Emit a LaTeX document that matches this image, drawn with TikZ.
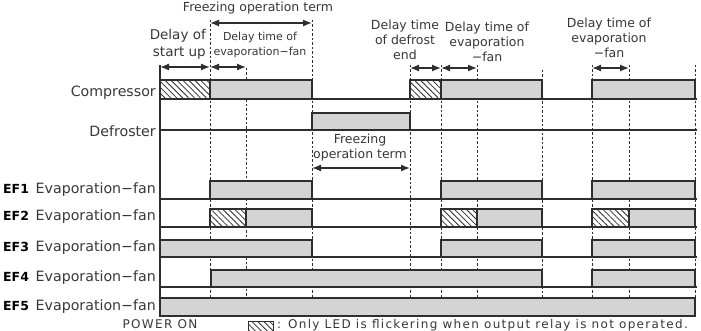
\documentclass[tikz,border=0pt]{standalone}
\usepackage{fontspec}
\setmainfont{DejaVu Sans}
\usetikzlibrary{arrows.meta, patterns.meta}
\definecolor{linegray}{HTML}{2E2E2E}
\definecolor{boxgray}{HTML}{D4D4D4}
\definecolor{textgray}{HTML}{383838}

\begin{document}
\begin{tikzpicture}[x=1pt, y=-1pt,
    on/.style = {fill=boxgray, draw=linegray, line width=1.4pt},
    hatch/.style = {draw=linegray, line width=1.4pt, pattern color=linegray,
      pattern={Lines[angle=-45, distance=4.2pt, line width=0.8pt]}},
    base/.style = {draw=linegray, line width=1.3pt},
    guide/.style = {draw=linegray, line width=0.8pt, dash pattern=on 2.5pt off 2pt},
    span/.style = {{Latex[length=9pt, width=7pt]}-{Latex[length=9pt, width=7pt]}, draw=linegray, line width=1.3pt},
    rowlabel/.style = {anchor=base east, text=textgray, inner sep=0pt, font=\fontsize{14.2}{16}\selectfont},
    eflabel/.style = {anchor=base west, inner sep=0pt, font=\fontsize{12.5}{16}\selectfont\bfseries},
    note/.style = {text=textgray, inner sep=0pt, align=center, font=\fontsize{12.5}{15}\selectfont},
    legend/.style = {text=textgray, inner sep=0pt, font=\fontsize{12}{14}\selectfont\addfontfeatures{LetterSpace=11}}]
    \useasboundingbox[fill=white] (0,0) rectangle (701,331);
    % guide lines
    \foreach \x/\y in {210/20, 246/68, 312/20, 410/65, 441/65, 477/65, 542/70, 592/65, 629/65, 695/65}
        \draw[guide] (\x,\y) -- (\x,298);
    % texts on top
    \node[note] (frz) at (258,8) {Freezing operation term};
    \node[note, anchor=east, align=right, font=\fontsize{13.5}{17}\selectfont] (dstart) at (206,44) {Delay of\\start up};
    \node[note, font=\fontsize{11}{15}\selectfont] (dfan1) at (260,45) {Delay time of\\evaporation−fan};
    \node[note] (ddef) at (405,40) {Delay time\\of defrost\\end};
    \node[note] (dfan2) at (487,41.5) {Delay time of\\evaporation\\−fan};
    \node[note] (dfan3) at (609,38) {Delay time of\\evaporation\\−fan};
    \node[note] (frz2) at (360,148) {Freezing\\operation term};
    % spans
    \draw[span] (210,23) -- (312,23);
    \draw[span] (160,67) -- (210,67);
    \draw[span] (210,67) -- (246,67);
    \draw[span] (410,68) -- (441,68);
    \draw[span] (441,68) -- (477,68);
    \draw[span] (592,68) -- (629,68);
    \draw[span] (312,168) -- (410,168);
    % Compressor
    \draw[hatch] (160,80) rectangle (210,99);
    \draw[on] (210,80) rectangle (312,99);
    \draw[hatch] (410,80) rectangle (441,99);
    \draw[on] (441,80) rectangle (542,99);
    \draw[on] (592,80) rectangle (695,99);
    \draw[base] (160,99) -- (697,99);
    % Defroster
    \draw[on] (312,113) rectangle (410,130);
    \draw[base] (160,130) -- (697,130);
    % EF1
    \draw[on] (210,181) rectangle (312,199);
    \draw[on] (441,181) rectangle (542,199);
    \draw[on] (592,181) rectangle (695,199);
    \draw[base] (160,199) -- (697,199);
    % EF2
    \draw[hatch] (210,209) rectangle (246,227);
    \draw[on] (246,209) rectangle (312,227);
    \draw[hatch] (441,209) rectangle (477,227);
    \draw[on] (477,209) rectangle (542,227);
    \draw[hatch] (592,209) rectangle (629,227);
    \draw[on] (629,209) rectangle (695,227);
    \draw[base] (160,227) -- (697,227);
    % EF3
    \draw[on] (160,240) rectangle (312,257);
    \draw[on] (441,240) rectangle (542,257);
    \draw[on] (592,240) rectangle (695,257);
    \draw[base] (160,257) -- (697,257);
    % EF4
    \draw[on] (211,270) rectangle (542,287);
    \draw[on] (592,270) rectangle (695,287);
    \draw[base] (160,287) -- (697,287);
    % EF5
    \draw[on, line width=2.4pt] (160,298) rectangle (695,316);
    % time axis
    \draw[base, line width=1.5pt] (160,65) -- (160,317);
    % row names
    \node[rowlabel] (comp) at (156,97) {Compressor};
    \node[rowlabel] (defr) at (156,137) {Defroster};
    \foreach \i/\y in {1/193.5, 2/221, 3/251.5, 4/281.5, 5/310} {
        \node[eflabel] (ef\i) at (3,\y) {EF\i};
        \node[rowlabel] (fan\i) at (156,\y) {Evaporation−fan};
    }
    % legend
    \node[legend, anchor=base] (pwr) at (160,328.5) {POWER ON};
    \draw[hatch, line width=0.8pt] (248,321) rectangle (273,331);
    \node[legend, anchor=base west] (lgd) at (277,328.5) {: Only LED is flickering when output relay is not operated.};
\end{tikzpicture}
\end{document}
